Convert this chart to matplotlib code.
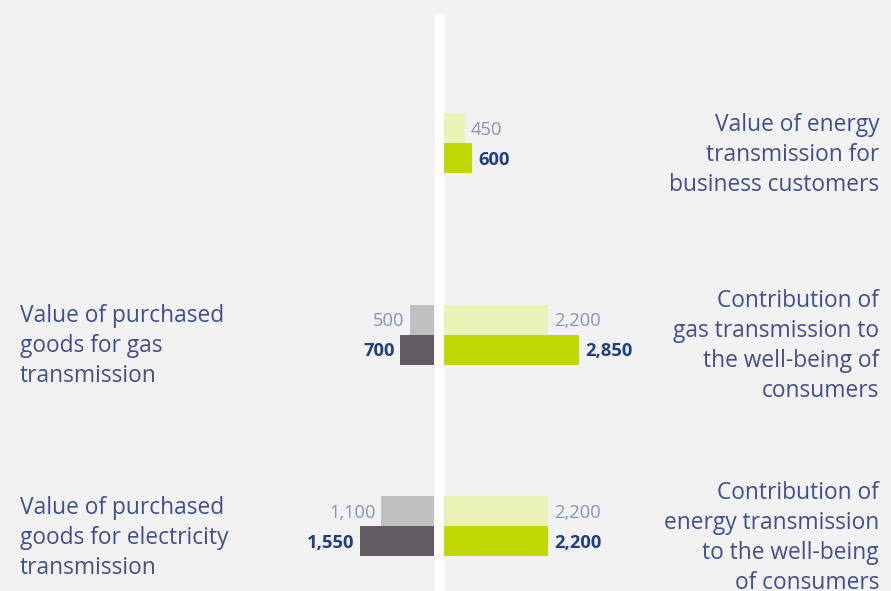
import numpy as np
import matplotlib.pyplot as plt

# Data
right_labels = [
    "Value of energy\ntransmission for\nbusiness customers",
    "Contribution of\ngas transmission to\nthe well-being of\nconsumers",
    "Contribution of\nenergy transmission\nto the well-being\nof consumers",
]
left_labels = [
    "",
    "Value of purchased\ngoods for gas\ntransmission",
    "Value of purchased\ngoods for electricity\ntransmission",
]
right_prev = [450, 2200, 2200]
right_curr = [600, 2850, 2200]
left_prev = [None, 500, 1100]
left_curr = [None, 700, 1550]

bg = "#f2f2f2"
light_green = "#eaf2b8"
dark_green = "#bfd900"
light_gray = "#c1bfc1"
dark_gray = "#625b61"
label_color = "#3f4f8f"
val_dark = "#1f3f7f"
val_light = "#8394bb"

W, H = 891, 591
s = 0.0477            # pixels per unit
cx = 438.5            # centre of the white divider (px)
gap = 5 / s           # half-width of divider in data units
y0, dy = 143, 191.5   # group centre px and spacing
bh = 30 / dy          # bar height in group units

fig = plt.figure(figsize=(W / 100, H / 100), dpi=100, facecolor=bg)
ax = fig.add_axes([0, 0, 1, 1], facecolor=bg)
ax.set_xlim(-cx / s, (W - cx) / s)
ax.set_ylim((H - y0) / dy, -y0 / dy)
ax.axis("off")

# white divider
ax.plot([0, 0], [(14 - y0) / dy, (H - y0) / dy], color="white", lw=6.8,
        solid_capstyle="butt", zorder=1)

font = "Open Sans"
y = np.arange(len(right_labels))
pad = 6 / s
lab_kw = dict(color=label_color, fontsize=16.4, family=font, linespacing=1.33)
vfs = 13.2
voff = 0.01
loff = 0.062

for i in y:
    # right side (green)
    ax.barh(i - bh / 2, right_prev[i], height=bh, left=gap, color=light_green, zorder=2)
    ax.barh(i + bh / 2, right_curr[i], height=bh, left=gap, color=dark_green, zorder=2)
    ax.text(gap + right_prev[i] + pad, i - bh / 2 + voff, f"{right_prev[i]:,}",
            ha="left", va="center", color=val_light, fontsize=vfs, family=font)
    ax.text(gap + right_curr[i] + pad, i + bh / 2 + voff, f"{right_curr[i]:,}",
            ha="left", va="center", color=val_dark, fontsize=vfs, family=font,
            fontweight="bold")
    ax.text((879 - cx) / s, i + loff, right_labels[i], ha="right", va="center", **lab_kw)

    # left side (gray)
    if left_prev[i] is not None:
        ax.barh(i - bh / 2, -left_prev[i], height=bh, left=-gap, color=light_gray, zorder=2)
        ax.barh(i + bh / 2, -left_curr[i], height=bh, left=-gap, color=dark_gray, zorder=2)
        ax.text(-gap - left_prev[i] - pad + 1 / s, i - bh / 2 + voff, f"{left_prev[i]:,}",
                ha="right", va="center", color=val_light, fontsize=vfs, family=font)
        ax.text(-gap - left_curr[i] - pad + 1 / s, i + bh / 2 + voff, f"{left_curr[i]:,}",
                ha="right", va="center", color=val_dark, fontsize=vfs, family=font,
                fontweight="bold")
        ax.text((20 - cx) / s, i + loff, left_labels[i], ha="left", va="center", **lab_kw)

fig.savefig("out.png", dpi=100, facecolor=bg)
